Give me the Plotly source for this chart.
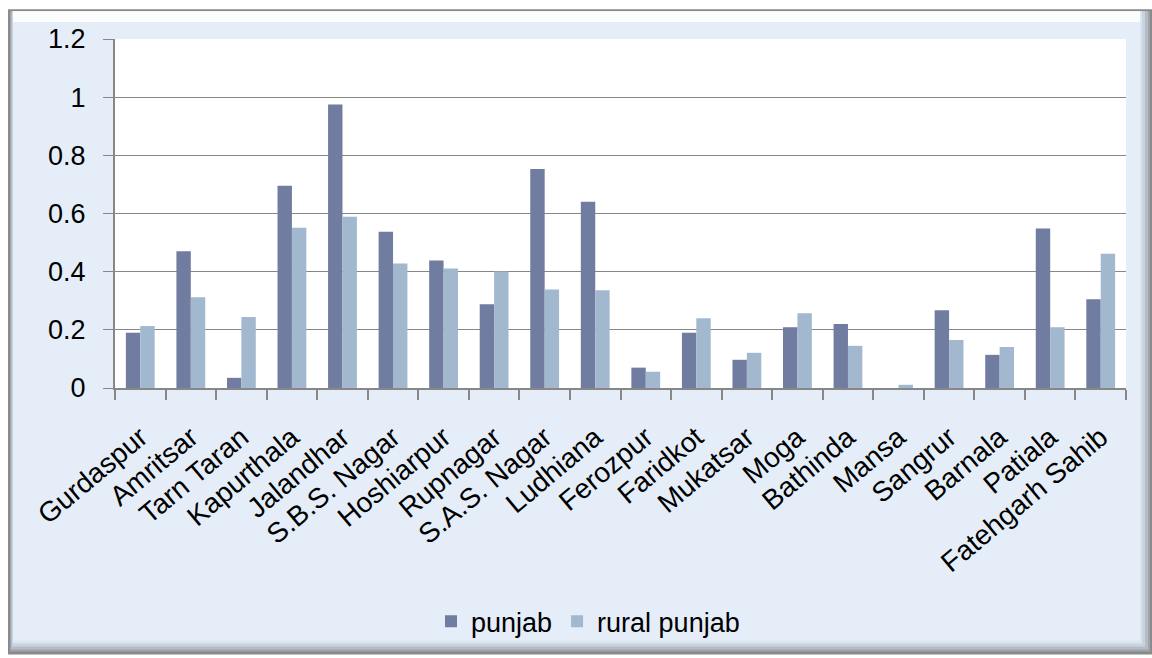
import plotly.graph_objects as go

districts = [
    "Gurdaspur", "Amritsar", "Tarn Taran", "Kapurthala", "Jalandhar",
    "S.B.S. Nagar", "Hoshiarpur", "Rupnagar", "S.A.S. Nagar", "Ludhiana",
    "Ferozpur", "Faridkot", "Mukatsar", "Moga", "Bathinda", "Mansa",
    "Sangrur", "Barnala", "Patiala", "Fatehgarh Sahib",
]
punjab = [0.19, 0.47, 0.035, 0.695, 0.975, 0.537, 0.438, 0.288, 0.753, 0.64,
          0.07, 0.19, 0.097, 0.209, 0.22, 0.0, 0.267, 0.114, 0.548, 0.305]
rural_punjab = [0.213, 0.312, 0.244, 0.551, 0.589, 0.428, 0.411, 0.401, 0.339, 0.336,
                0.056, 0.24, 0.121, 0.257, 0.145, 0.011, 0.165, 0.141, 0.209, 0.462]

W, H = 1152, 658
L, R, T, B = 115, 26, 39, 268
PW, PH = W - L - R, H - T - B


def px(x):
    return (x - L) / PW


def py(y):
    return (H - B - y) / PH


def box(x0, y0, x1, y1, color):
    return dict(type="rect", xref="paper", yref="paper", layer="below",
                x0=px(x0), x1=px(x1), y0=py(y1), y1=py(y0),
                fillcolor=color, line=dict(width=0))


frame = [
    box(8, 9, 1152, 658, "#8a8a8a"),
    box(10, 11, 1150, 655, "#9ea5ad"),
    box(11, 11, 1148, 653, "#b4bcc5"),
    box(12, 11, 1145, 650, "#cbd4de"),
    box(13, 11, 1142, 647, "#dbe5f0"),
    box(13, 11, 1140, 644, "#e5eef8"),
    box(13, 11, 1140, 22, "#fbfdff"),
    box(L, T, W - R, H - B, "#ffffff"),
]

fig = go.Figure()
fig.add_trace(go.Bar(name="punjab", x=districts, y=punjab,
                     marker=dict(color="#717ca1", line=dict(width=0))))
fig.add_trace(go.Bar(name="rural punjab", x=districts, y=rural_punjab,
                     marker=dict(color="#a1b8cf", line=dict(width=0))))

axis_grey = "#878787"
fig.update_layout(
    width=W, height=H,
    margin=dict(l=L, r=R, t=T, b=B, pad=0),
    paper_bgcolor="#ffffff",
    plot_bgcolor="#ffffff",
    barmode="group",
    bargap=0.43,
    bargroupgap=0,
    font=dict(family="Liberation Sans, Arial, sans-serif", color="#000000"),
    shapes=frame,
    showlegend=True,
    legend=dict(orientation="h", x=px(588), xanchor="center",
                y=py(625), yanchor="middle",
                font=dict(size=27), bgcolor="rgba(0,0,0,0)",
                itemwidth=30, traceorder="normal"),
    xaxis=dict(
        type="category",
        tickangle=-40,
        tickson="boundaries",
        ticks="outside", ticklen=10, tickcolor=axis_grey, tickwidth=2,
        showline=True, linecolor=axis_grey, linewidth=2,
        showgrid=False,
        tickfont=dict(size=28),
        ticklabelstandoff=20,
    ),
    yaxis=dict(
        range=[0, 1.2],
        tickvals=[0, 0.2, 0.4, 0.6, 0.8, 1.0, 1.2],
        ticktext=["0", "0.2", "0.4", "0.6", "0.8", "1", "1.2"],
        ticks="outside", ticklen=10, tickcolor=axis_grey, tickwidth=1,
        showline=True, linecolor=axis_grey, linewidth=2,
        showgrid=True, gridcolor=axis_grey, gridwidth=1,
        zeroline=False,
        tickfont=dict(size=27),
        ticklabelstandoff=12,
    ),
)

fig.write_html("out.html")
